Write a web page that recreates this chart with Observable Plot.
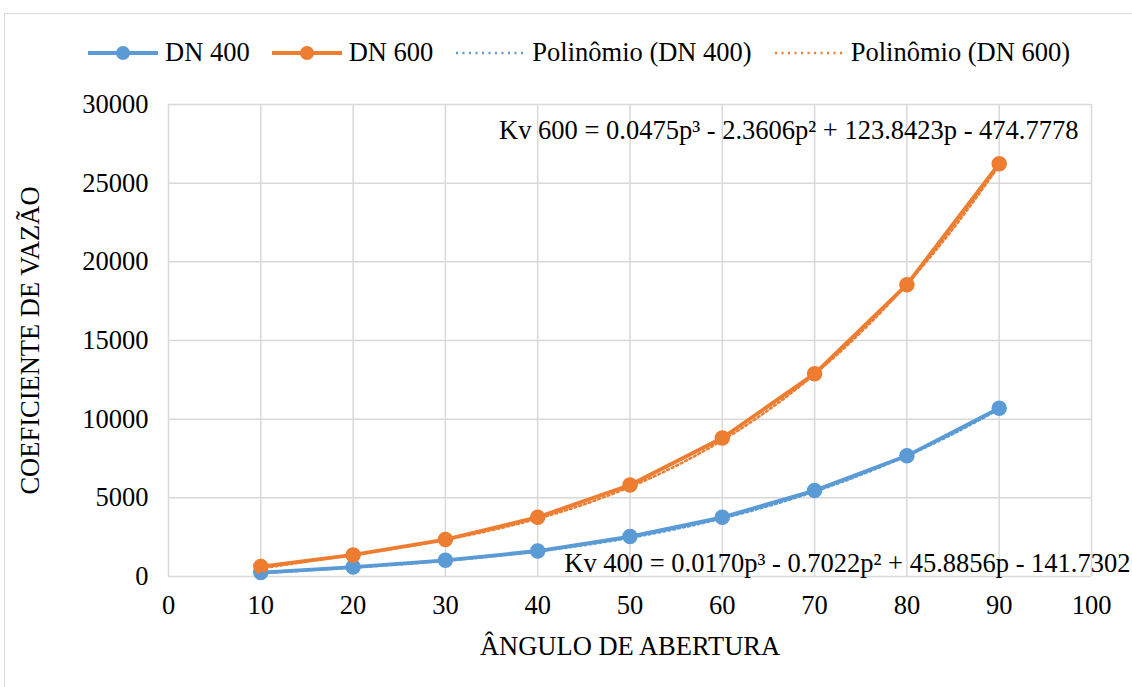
<!DOCTYPE html>
<html>
<head>
<meta charset="utf-8">
<script src="https://cdn.jsdelivr.net/npm/d3@7"></script>
<script src="https://cdn.jsdelivr.net/npm/@observablehq/plot@0.6"></script>
<style>
  html, body { margin: 0; padding: 0; background: #fff; }
  body { width: 1132px; height: 687px; overflow: hidden; position: relative;
         font-family: "Liberation Serif", "Times New Roman", serif; }
  #frame { position: absolute; left: 4px; top: 13px; width: 1200px; height: 800px;
           border-left: 1.5px solid #d9d9d9; border-top: 1.5px solid #d9d9d9; }
  #chart { position: absolute; left: 0; top: 0; }
  #legend { position: absolute; left: 88px; top: 37px; display: flex; align-items: center;
            gap: 22px; font-size: 26.5px; color: #000; }
  .item { display: flex; align-items: center; gap: 7px; white-space: nowrap; }
</style>
</head>
<body>
<div id="frame"></div>
<div id="chart"></div>
<div id="legend"></div>
<script>
// ---- data ----
const angles = [10, 20, 30, 40, 50, 60, 70, 80, 90];
const dn400 = [250, 600, 1030, 1620, 2540, 3760, 5460, 7670, 10700];
const dn600 = [630, 1370, 2350, 3770, 5820, 8800, 12880, 18550, 26240];

// polynomial trendline values (dotted curves), read at 5° steps
const trendAngles = [10, 15, 20, 25, 30, 35, 40, 45, 50, 55, 60, 65, 70, 75, 80, 85, 90];
const trend400 = [264, 446, 631, 832, 1062, 1333, 1658, 2050, 2522, 3086, 3756, 4543, 5461, 6522, 7739, 9125, 10693];
const trend600 = [575, 1012, 1438, 1888, 2399, 3005, 3742, 4646, 5753, 7099, 8718, 10646, 12920, 15574, 18645, 22167, 26178];

const xTicks = [0, 10, 20, 30, 40, 50, 60, 70, 80, 90, 100];
const yTicks = [0, 5000, 10000, 15000, 20000, 25000, 30000];

const seriesNames = ["DN 400", "DN 600", "Polinômio (DN 400)", "Polinômio (DN 600)"];
const eq600 = "Kv 600 = 0.0475p³ - 2.3606p² + 123.8423p - 474.7778";
const eq400 = "Kv 400 = 0.0170p³ - 0.7022p² + 45.8856p - 141.7302";
const xTitle = "ÂNGULO DE ABERTURA";
const yTitle = "COEFICIENTE DE VAZÃO";

const blue = "#5b9bd5", orange = "#ed7d31", grid = "#d9d9d9";

const t400 = angles.map((a, i) => ({angle: a, kv: dn400[i]}));
const t600 = angles.map((a, i) => ({angle: a, kv: dn600[i]}));
const tr400 = trendAngles.map((a, i) => ({angle: a, kv: trend400[i]}));
const tr600 = trendAngles.map((a, i) => ({angle: a, kv: trend600[i]}));

const font = "'Liberation Serif', 'Times New Roman', serif";
const fs = 26.5;

const chart = Plot.plot({
  width: 1132,
  height: 687,
  marginTop: 104,
  marginBottom: 111,
  marginLeft: 168,
  marginRight: 41,
  x: {domain: [0, 100], ticks: xTicks},
  y: {domain: [0, 30000], ticks: yTicks},
  style: {fontFamily: font, fontSize: fs + "px", color: "#000", background: "transparent", overflow: "visible"},
  marks: [
    Plot.gridX(xTicks, {stroke: grid, strokeOpacity: 1, strokeWidth: 1.5}),
    Plot.gridY(yTicks, {stroke: grid, strokeOpacity: 1, strokeWidth: 1.5}),
    Plot.axisX(xTicks, {tickSize: 0, tickPadding: 19, label: null, tickFormat: d => String(d), fontSize: fs}),
    Plot.axisY(yTicks, {tickSize: 0, tickPadding: 20, label: null, tickFormat: d => String(d), fontSize: fs}),
    Plot.line(t400, {x: "angle", y: "kv", stroke: blue, strokeWidth: 3.8}),
    Plot.line(t600, {x: "angle", y: "kv", stroke: orange, strokeWidth: 3.8}),
    Plot.dot(t400, {x: "angle", y: "kv", r: 7, fill: blue, stroke: blue}),
    Plot.dot(t600, {x: "angle", y: "kv", r: 7, fill: orange, stroke: orange}),
    Plot.line(tr400, {x: "angle", y: "kv", stroke: blue, strokeWidth: 2.5, strokeDasharray: "2 3", curve: "catmull-rom", dy: 1}),
    Plot.line(tr600, {x: "angle", y: "kv", stroke: orange, strokeWidth: 2.5, strokeDasharray: "2 3", curve: "catmull-rom", dy: 1}),
    Plot.text([eq600], {frameAnchor: "top-right", textAnchor: "end", lineAnchor: "middle", dx: -13, dy: 26, fontSize: fs, fill: "#000"}),
    Plot.text([eq400], {frameAnchor: "bottom-right", textAnchor: "end", lineAnchor: "middle", dx: 39, dy: -13, fontSize: fs, fill: "#000"}),
    Plot.text([xTitle], {frameAnchor: "bottom", lineAnchor: "middle", dy: 70, fontSize: fs, fill: "#000"}),
    Plot.text([yTitle], {frameAnchor: "left", lineAnchor: "middle", textAnchor: "middle", rotate: -90, dx: -138, fontSize: fs, fill: "#000"})
  ]
});
document.getElementById("chart").appendChild(chart);

// ---- legend ----
const legend = document.getElementById("legend");
const swatches = [
  {color: blue, dotted: false},
  {color: orange, dotted: false},
  {color: blue, dotted: true},
  {color: orange, dotted: true}
];
seriesNames.forEach((name, i) => {
  const s = swatches[i];
  const item = document.createElement("div");
  item.className = "item";
  const svg = s.dotted
    ? `<svg width="70" height="20"><line x1="1" y1="10" x2="69" y2="10" stroke="${s.color}" stroke-width="2.5" stroke-dasharray="2 4.5"/></svg>`
    : `<svg width="70" height="20"><line x1="0" y1="10" x2="70" y2="10" stroke="${s.color}" stroke-width="4"/><circle cx="35" cy="10" r="7" fill="${s.color}"/></svg>`;
  item.innerHTML = svg + `<span>${name}</span>`;
  legend.appendChild(item);
});
</script>
</body>
</html>
